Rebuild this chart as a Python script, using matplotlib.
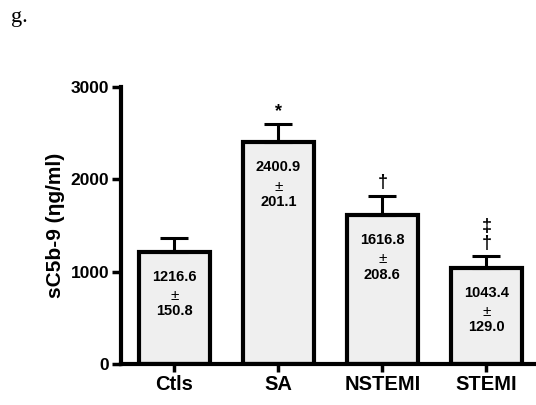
import numpy as np
import matplotlib
matplotlib.use('Agg')
import matplotlib.pyplot as plt

groups = ['Ctls', 'SA', 'NSTEMI', 'STEMI']
means = [1216.6, 2400.9, 1616.8, 1043.4]
sems = [150.8, 201.1, 208.6, 129.0]
marks = ['', '*', '\u2020', '\u2021\n\u2020']

plt.rcParams['font.family'] = ['Liberation Sans', 'DejaVu Sans']
plt.rcParams['font.weight'] = 'bold'

fig = plt.figure(figsize=(5.36, 4.05), dpi=100)
ax = fig.add_axes([0.2257, 0.101, 0.774, 0.684])

x = np.arange(len(groups))
ax.bar(x, means, width=0.68, color='#efefef', edgecolor='black', linewidth=3,
       yerr=[np.zeros(len(sems)), sems], capsize=10,
       error_kw=dict(elinewidth=2.2, capthick=2.2, ecolor='black'), zorder=2)

for i in range(len(groups)):
    ax.annotate(f'{means[i]:.1f}', (x[i], means[i]), xytext=(0, -18),
                textcoords='offset points', ha='center', va='center',
                fontsize=10.5, fontweight='bold')
    ax.annotate('\u00b1', (x[i], means[i]), xytext=(0, -32),
                textcoords='offset points', ha='center', va='center',
                fontsize=11, fontweight='normal')
    ax.annotate(f'{sems[i]:.1f}', (x[i], means[i]), xytext=(0, -43),
                textcoords='offset points', ha='center', va='center',
                fontsize=10.5, fontweight='bold')
    if marks[i]:
        ax.annotate(marks[i], (x[i], means[i] + sems[i]), xytext=(0, 3),
                    textcoords='offset points', ha='center', va='bottom',
                    fontsize=13, fontweight='bold', linespacing=1.0)

ax.set_xlim(-0.514, 3.476)
ax.set_ylim(0, 3000)
ax.set_yticks([0, 1000, 2000, 3000])
ax.set_xticks(x)
ax.set_xticklabels(groups, fontsize=14.5, fontweight='bold')
ax.tick_params(axis='y', labelsize=12.5, width=2.5, length=6.5, pad=2)
ax.tick_params(axis='x', width=2.5, length=6, pad=2)
for lab in ax.get_yticklabels():
    lab.set_fontweight('bold')

ax.spines['top'].set_visible(False)
ax.spines['right'].set_visible(False)
ax.spines['left'].set_linewidth(3)
ax.spines['bottom'].set_linewidth(3)
ax.spines['bottom'].set_zorder(3)

ax.set_ylabel('sC5b-9 (\u03b7g/ml)', fontsize=15, fontweight='bold', labelpad=4)

fig.text(0.02, 0.946, 'g.', fontsize=16, family='Liberation Serif',
         fontweight='normal', ha='left', va='baseline')

fig.savefig('out.png', dpi=100)
